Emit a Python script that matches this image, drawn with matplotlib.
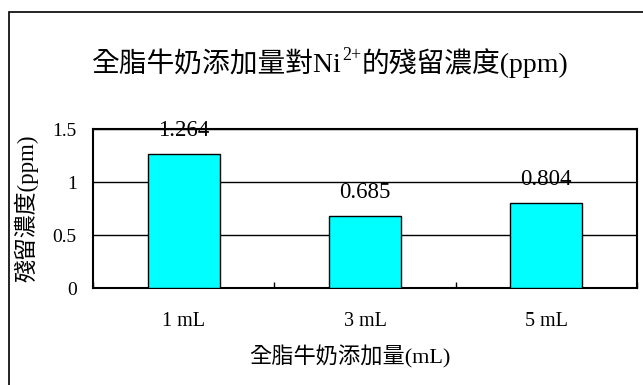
import matplotlib
matplotlib.use("Agg")
import matplotlib.pyplot as plt
from matplotlib.patches import Rectangle

# residual Ni2+ concentration vs. whole milk volume added
categories = ["1 mL", "3 mL", "5 mL"]
residual_ppm = [1.264, 0.685, 0.804]
value_labels = ["1.264", "0.685", "0.804"]
y_ticks = [0, 0.5, 1, 1.5]
y_tick_labels = ["0", "0.5", "1", "1.5"]

title_left = "全脂牛奶添加量對Ni"
title_sup = "2+"
title_right = "的殘留濃度(ppm)"
x_label = "全脂牛奶添加量(mL)"
y_label = "殘留濃度(ppm)"

fonts = ["Liberation Serif", "Noto Sans CJK TC", "DejaVu Sans"]
plt.rcParams["font.family"] = fonts

W, H = 643, 385
fig = plt.figure(figsize=(W / 100, H / 100), dpi=100)

# frame around the whole chart (right/bottom edges fall off the canvas)
fig.patches.append(Rectangle((9 / W, -0.05), 1.1, 1 - 12 / H + 0.05,
                             transform=fig.transFigure, fill=False,
                             edgecolor="black", linewidth=1.2))

ax = fig.add_axes([93.3 / W, 1 - 288.3 / H, (636.7 - 93.3) / W, (288.3 - 129.3) / H])

x = list(range(len(categories)))
ax.bar(x, residual_ppm, width=0.4, color="#00FFFF", edgecolor="black",
       linewidth=1.0, zorder=3)

for xi, v, lab in zip(x, residual_ppm, value_labels):
    ax.annotate(lab, (xi, v), xytext=(0, 13), textcoords="offset points",
                ha="center", va="baseline", fontsize=16.5, zorder=4)

ax.set_xlim(-0.5, 2.5)
ax.set_ylim(0, 1.5)
ax.set_xticks(x)
ax.set_xticklabels(categories, fontsize=14.5)
ax.set_xticks([-0.5, 0.5, 1.5, 2.5], minor=True)
ax.tick_params(axis="x", which="major", length=0, pad=17)
ax.tick_params(axis="x", which="minor", direction="in", length=4, width=1)
ax.set_yticks(y_ticks)
ax.set_yticklabels(y_tick_labels, fontsize=14)
ax.tick_params(axis="y", length=0, pad=12)

ax.yaxis.grid(True, color="black", linewidth=1.0)
ax.set_axisbelow(True)
for s in ax.spines.values():
    s.set_linewidth(1.5)

fig.text(26 / W, 1 - 208 / H, y_label, rotation=90, ha="center", va="center",
         fontsize=16.5)
fig.text(350 / W, 1 - 357 / H, x_label, ha="center", va="center", fontsize=16)

# title built from pieces so the charge can sit as a superscript
fig.canvas.draw()
r = fig.canvas.get_renderer()
ty = 1 - 72 / H
t1 = fig.text(0, ty, title_left, fontsize=20, va="baseline")
t2 = fig.text(0, ty + 12 / H, title_sup, fontsize=13, va="baseline")
t3 = fig.text(0, ty, title_right, fontsize=20, va="baseline")
widths = [t.get_window_extent(r).width for t in (t1, t2, t3)]
xpos = 330 - sum(widths) / 2
for t, w in zip((t1, t2, t3), widths):
    t.set_x(xpos / W)
    xpos += w

fig.savefig("out.png", dpi=100)
